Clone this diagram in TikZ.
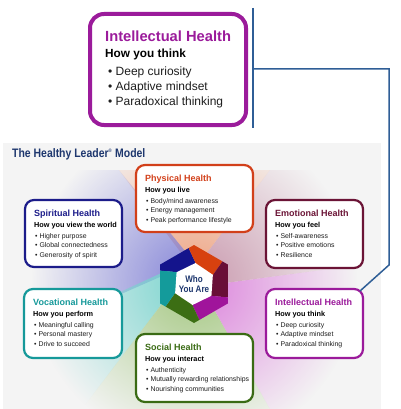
\documentclass[tikz,border=0pt]{standalone}
\usepackage{fontspec}
\setmainfont{Liberation Sans}
\newfontfamily\condfont{Liberation Sans}[FakeStretch=0.85]
\usetikzlibrary{calc,fadings}
\definecolor{ipurple}{RGB}{155,27,155}
\definecolor{pred}{RGB}{210,64,26}
\definecolor{snavy}{RGB}{28,28,138}
\definecolor{emaroon}{RGB}{107,20,54}
\definecolor{vteal}{RGB}{22,153,154}
\definecolor{sgreen}{RGB}{58,107,20}
\definecolor{connblue}{RGB}{47,94,150}
\definecolor{panelgray}{RGB}{244,244,244}
\definecolor{titlenavy}{RGB}{30,55,110}
\definecolor{bLav}{RGB}{130,130,215}
\definecolor{bPeach}{RGB}{238,160,125}
\definecolor{bMauve}{RGB}{200,150,172}
\definecolor{bPink}{RGB}{220,130,220}
\definecolor{bGreen}{RGB}{165,200,130}
\definecolor{bTeal}{RGB}{120,212,206}
\definecolor{hnavy}{RGB}{20,20,140}
\definecolor{horange}{RGB}{215,65,15}
\definecolor{hmaroon}{RGB}{105,15,55}
\definecolor{hpurple}{RGB}{160,20,155}
\definecolor{hgreen}{RGB}{60,110,20}
\definecolor{hteal}{RGB}{20,155,155}
\definecolor{itemgray}{RGB}{30,30,30}
\tikzfading[name=beamfade, inner color=transparent!0, outer color=transparent!100]
\newcommand\HLbox[6]{%
  \node[smallbox, draw=#6, minimum width=#4pt, minimum height=#5pt] (#1) at (#2,#3) {};}
\newcommand\HLtext[7]{%
  \node[hhead, text=#2] (#1-t) at ($(#1.north west)+(9,16)$) {#3};
  \node[hsub] (#1-s) at ($(#1-t.base west)+(0,11)$) {#4};
  \node[hitem] (#1-b1) at ($(#1-s.base west)+(1,11)$) {\textbullet\ #5};
  \node[hitem] (#1-b2) at ($(#1-b1.base west)+(0,9.5)$) {\textbullet\ #6};
  \node[hitem] (#1-b3) at ($(#1-b2.base west)+(0,9.5)$) {\textbullet\ #7};}
\begin{document}
\begin{tikzpicture}[x=1pt,y=-1pt,
  smallbox/.style={rectangle, rounded corners=9pt, line width=2.2pt, fill=white, anchor=north west, outer sep=0pt, inner sep=0pt},
  topbox/.style={rectangle, rounded corners=14pt, line width=4pt, draw=ipurple, fill=white, anchor=north west, outer sep=0pt, inner sep=0pt},
  hhead/.style={anchor=base west, inner sep=0pt, font=\bfseries\fontsize{9}{10}\selectfont},
  hsub/.style={anchor=base west, inner sep=0pt, font=\bfseries\fontsize{7.3}{8}\selectfont},
  hitem/.style={anchor=base west, inner sep=0pt, text=itemgray, font=\fontsize{6.9}{8}\selectfont},
  conn/.style={draw=connblue, line width=1.5pt},
  beam/.style={path fading=beamfade, fit fading=false, fading transform={shift={(194,284)}, scale=6.5}}]
\useasboundingbox (0,0) rectangle (400,409);
% background panel
\fill[panelgray] (3,143) rectangle (381,409);
% connector
\coordinate (c0) at (253,8);
\coordinate (c1) at (253,128);
\coordinate (c2) at (253,69);
\coordinate (c3) at (389,69);
\coordinate (c4) at (389,265);
% top callout box
\node[topbox, minimum width=156pt, minimum height=111pt] (ih) at (90,14) {};
\node[anchor=base west, inner sep=0pt, text=ipurple, font=\bfseries\fontsize{14.7}{16}\selectfont] (ih-t) at ($(ih.north west)+(15,27.5)$) {Intellectual Health};
\node[anchor=base west, inner sep=0pt, font=\bfseries\fontsize{11.8}{13}\selectfont] (ih-s) at ($(ih-t.base west)+(0,16.5)$) {How you think};
\node[anchor=base west, inner sep=0pt, text=itemgray, font=\fontsize{12}{13}\selectfont] (ih-b1) at ($(ih-s.base west)+(3,17.5)$) {\textbullet\ Deep curiosity};
\node[anchor=base west, inner sep=0pt, text=itemgray, font=\fontsize{12}{13}\selectfont] (ih-b2) at ($(ih-b1.base west)+(0,15)$) {\textbullet\ Adaptive mindset};
\node[anchor=base west, inner sep=0pt, text=itemgray, font=\fontsize{12}{13}\selectfont] (ih-b3) at ($(ih-b2.base west)+(0,15)$) {\textbullet\ Paradoxical thinking};
% title
\node[anchor=base west, inner sep=0pt, text=titlenavy, font=\condfont\bfseries\fontsize{12.3}{14}\selectfont] (title) at (12,157) {The Healthy Leader\textsuperscript{\tiny\textregistered} Model};
% beams
\fill[bPeach, beam] (194,270) -- (119,170) -- (270,170) -- cycle;
\fill[bLav, beam] (194,262) -- (119,170) -- (5,170) -- (5,345) -- cycle;
\fill[bTeal, beam] (194,258) -- (5,345) -- (5,409) -- (82,409) -- (177,284) -- cycle;
\fill[bGreen, beam] (177,284) -- (82,409) -- (270,409) -- (200,284) -- cycle;
\fill[bPink, beam] (200,284) -- (270,409) -- (381,409) -- (381,262) -- (210,285) -- cycle;
\fill[bMauve, beam] (210,285) -- (381,262) -- (381,170) -- (270,170) -- (194,270) -- cycle;
% hexagon
\coordinate (H) at (194,284);
\begin{scope}
\clip ($(H)+(270:39)$) -- ($(H)+(330:39)$) -- ($(H)+(30:39)$) -- ($(H)+(90:39)$) -- ($(H)+(150:39)$) -- ($(H)+(210:39)$) -- cycle;
\foreach \b/\c in {195/hnavy,255/horange,315/hmaroon,375/hpurple,435/hgreen,495/hteal}
  \fill[\c] (H) -- ($(H)+(\b+25:18)$) -- ($(H)+(\b:60)$) -- ($(H)+(\b+30:70)$) -- ($(H)+(\b+60:60)$) -- ($(H)+(\b+85:18)$) -- cycle;
\end{scope}
\fill[white] ($(H)+(274:21)$) -- ($(H)+(334:21)$) -- ($(H)+(34:21)$) -- ($(H)+(94:21)$) -- ($(H)+(154:21)$) -- ($(H)+(214:21)$) -- cycle;
\node[align=center, inner sep=0pt, text=titlenavy, font=\condfont\bfseries\fontsize{9.5}{10.5}\selectfont] (who) at (194,284) {Who\\You Are};
% small boxes
\HLbox{phys}{136}{165}{117}{67}{pred}
\HLbox{spir}{25}{200}{97}{67}{snavy}
\HLbox{emot}{266}{200}{97}{68}{emaroon}
\HLbox{voc}{24}{289}{98}{69}{vteal}
\HLbox{intl}{266}{289}{97}{69}{ipurple}
\HLbox{soc}{136}{334}{117}{68}{sgreen}
\HLtext{phys}{pred}{Physical Health}{How you live}{Body/mind awareness}{Energy management}{Peak performance lifestyle}
\HLtext{spir}{snavy}{Spiritual Health}{How you view the world}{Higher purpose}{Global connectedness}{Generosity of spirit}
\HLtext{emot}{emaroon}{Emotional Health}{How you feel}{Self-awareness}{Positive emotions}{Resilience}
\HLtext{voc}{vteal}{Vocational Health}{How you perform}{Meaningful calling}{Personal mastery}{Drive to succeed}
\HLtext{intl}{ipurple}{Intellectual Health}{How you think}{Deep curiosity}{Adaptive mindset}{Paradoxical thinking}
\HLtext{soc}{sgreen}{Social Health}{How you interact}{Authenticity}{Mutually rewarding relationships}{Nourishing communities}
% connector lines
\draw[conn] (c0) -- (c1);
\draw[conn] (c2) -- (c3) -- (c4) -- ($(intl.north east)+(-3,2)$);
\end{tikzpicture}
\end{document}
